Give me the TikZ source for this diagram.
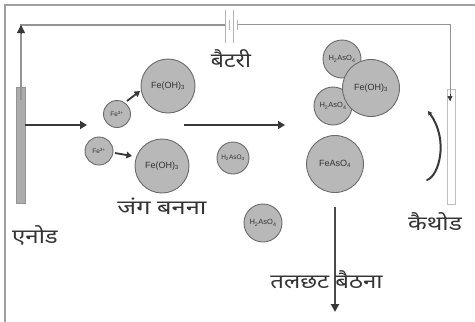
\documentclass[tikz,border=0pt]{standalone}
\usepackage{fontspec}
\setmainfont{Liberation Sans}
\newfontfamily\hindi[Script=Devanagari]{Noto Sans}
\usetikzlibrary{arrows.meta}
\definecolor{ball}{gray}{0.72}
\definecolor{ballline}{gray}{0.42}
\definecolor{wire}{gray}{0.58}
\definecolor{ink}{gray}{0.22}
\definecolor{txt}{gray}{0.2}
\newcommand\HT[2][1.1]{\scalebox{#1}[1]{#2}}
\newcommand\subs[1]{\textsubscript{#1}}
\tikzset{
  ball/.style={circle,draw=ballline,line width=0.9pt,fill=ball,inner sep=0pt,minimum size=#1,text=black!80},
  chem/.style={font=\fontsize{9}{10}\selectfont},
  chemmid/.style={font=\fontsize{7.5}{8}\selectfont},
  chemsmall/.style={font=\fontsize{6.5}{7}\selectfont},
  hin/.style={font=\hindi\fontsize{20}{22}\selectfont,text=txt,inner sep=0pt},
  wireline/.style={draw=wire,line width=1.2pt},
  flow/.style={draw=ink,line width=2.6pt,-{Triangle[length=7pt,width=8pt]}},
  smallflow/.style={draw=ink,line width=1.8pt,-{Triangle[length=5.5pt,width=6.5pt]}},
}
\begin{document}
\begin{tikzpicture}[x=1pt,y=-1pt]
\useasboundingbox[fill=white] (0,0) rectangle (475,322);
\draw[wire!90,line width=2pt] (5,322) -- (5,4.5) -- (475,4.5);
% electrodes
\node[draw=wire,fill=gray!65,line width=0.5pt,minimum width=9pt,minimum height=116pt,inner sep=0pt] (anode) at (20.5,145.5) {};
\node[draw=black!25,fill=white,line width=1pt,minimum width=8.5pt,minimum height=115pt,inner sep=0pt] (cathode) at (451.5,146.5) {};
% battery and wires
\coordinate (batL) at (225,25);
\coordinate (batR) at (237,24);
\coordinate (anTop) at (21,25);
\coordinate (caTop) at (450,23.5);
\coordinate (anHead) at (21,34);
\coordinate (caIn) at (450,101);
\draw[wireline] (batL) -- (anTop) -- (21,100);
\draw[draw=ink,line width=0.8pt,-{Triangle[length=8pt,width=8pt]}] (anHead) -- (anTop);
\draw[wire,line width=1pt] (batR) -- (450,24) -- (caTop |- caIn);
\draw[ink,line width=0.6pt,-{Triangle[length=5pt,width=5pt]}] (450,94) -- (caIn);
\draw[wire!70,line width=0.9pt] (225,10) -- (225,43);
\draw[wire!70,line width=0.9pt] (229,20) -- (229,30);
\draw[wire!70,line width=0.9pt] (233.5,10) -- (233.5,43);
\draw[wire!70,line width=0.9pt] (237,20) -- (237,30);
% balls
\node[ball=54pt,chem] (h1) at (168,86) {Fe(OH)\subs{3}};
\node[ball=27pt,chemsmall] (f1) at (117,114) {Fe\textsuperscript{3+}};
\node[ball=28pt,chemsmall] (f2) at (99,151) {Fe\textsuperscript{3+}};
\node[ball=54pt,chem] (h2) at (162,166) {Fe(OH)\subs{3}};
\node[ball=32pt,chemsmall] (a1) at (233,158) {H\subs{2}AsO\subs{4}};
\node[ball=38pt,chemmid] (a2) at (342,59) {H\subs{2}AsO\subs{4}};
\node[ball=38pt,chemmid] (a3) at (333,106) {H\subs{2}AsO\subs{4}};
\node[ball=57pt,chem] (h3) at (371,88) {Fe(OH)\subs{3}};
\node[ball=57pt,chem] (fa) at (335,164) {FeAsO\subs{4}};
\node[ball=38pt,chemmid] (a4) at (263,223) {H\subs{2}AsO\subs{4}};
% arrows
\coordinate (m1) at (87,125);
\coordinate (m2) at (184,125);
\coordinate (m3) at (285,125);
\coordinate (d1) at (335,207);
\coordinate (d2) at (335,312);
\coordinate (c1) at (427,180);
\coordinate (c2) at (428,111);
\coordinate (s1) at (127,101);
\coordinate (s1e) at (140,91);
\coordinate (s2) at (115,153);
\coordinate (s2e) at (132,156);
\draw[flow] (anode.east |- m1) -- (m1);
\draw[flow] (m2) -- (m3);
\draw[smallflow] (s1) -- (s1e);
\draw[smallflow] (s2) -- (s2e);
\draw[draw=wire!50!black,line width=1.8pt,-{Triangle[length=8pt,width=8pt,color=ink]}] (d1) -- (d2);
\draw[draw=ink,line width=2pt,line cap=round,-{Triangle[length=4pt,width=4.5pt]}] (c1) .. controls (439,176) and (449,140) .. (c2);
% labels
\node[hin] (t1) at (231,59) {\HT[1.15]{बैटरी}};
\node[hin] (t2) at (162,206) {\HT[1.27]{जंग  बनना}};
\node[hin] (t3) at (35,235) {\HT[1.2]{एनोड}};
\node[hin] (t4) at (435,222) {\HT[1.22]{कैथोड}};
\node[hin] (t5) at (326.5,280) {\HT[1.2]{तलछट बैठना}};
\end{tikzpicture}
\end{document}
